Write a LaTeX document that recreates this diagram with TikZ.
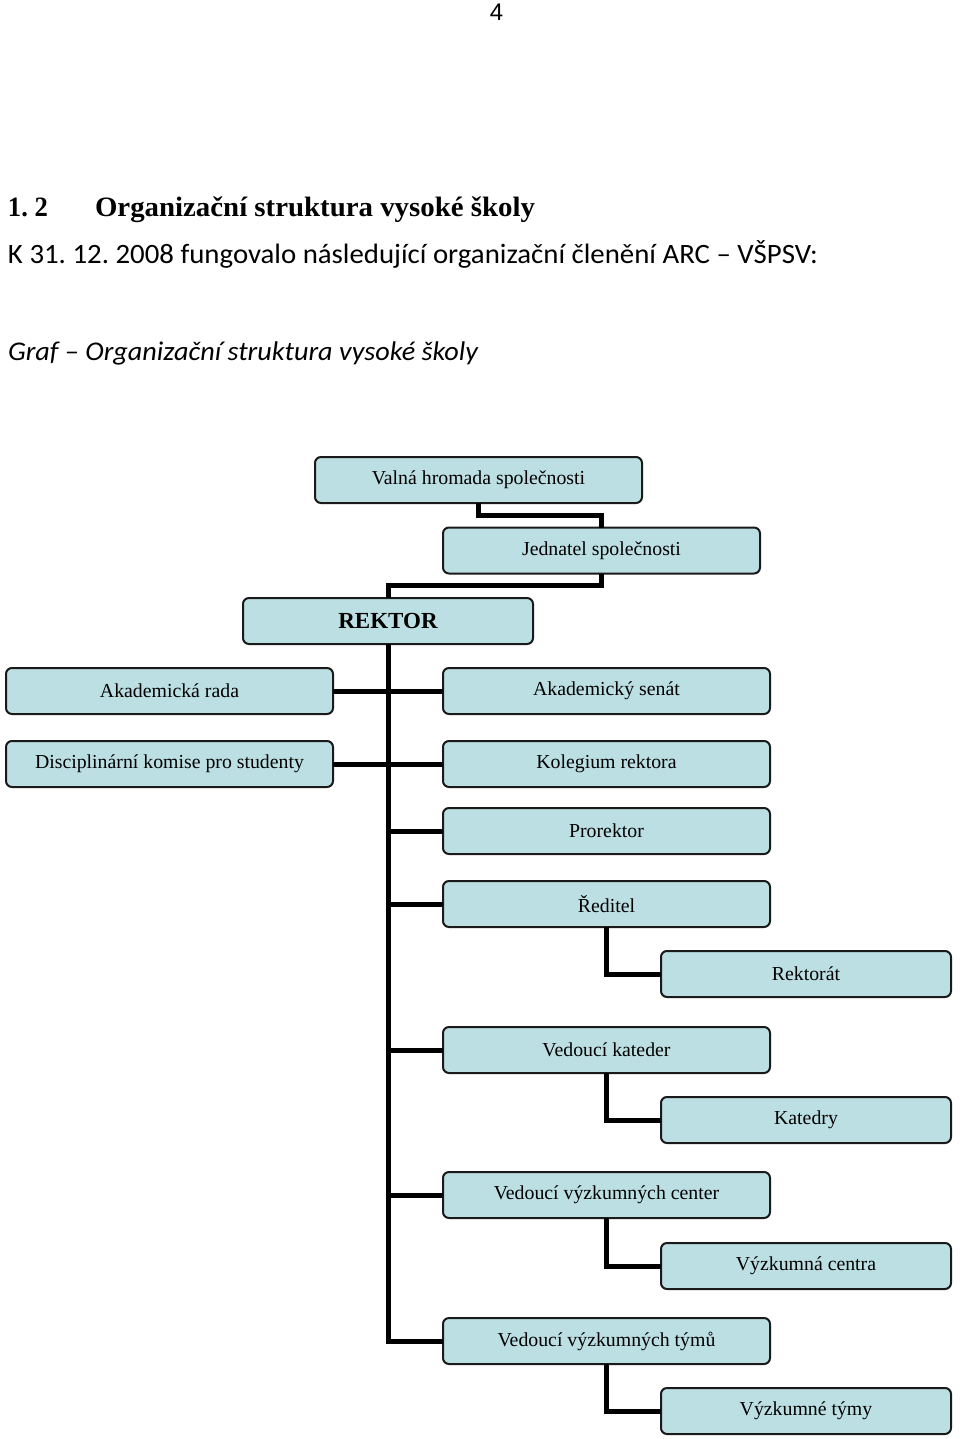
\documentclass[tikz,border=0pt]{standalone}
\usepackage{fontspec}
\usepackage{graphicx}
\setmainfont{Liberation Serif}
\newfontfamily\bodyfont{Carlito}
\newfontfamily\pagefont{Liberation Sans}
\usetikzlibrary{calc}
\frenchspacing
\definecolor{boxfill}{HTML}{BCDFE3}
\definecolor{boxline}{HTML}{1A1A1A}
\tikzset{
  orgbox/.style={draw=boxline, line width=2pt, fill=boxfill, rounded corners=6pt,
    inner sep=0pt, outer sep=0pt, minimum height=46pt, font=\fontsize{19.8}{23}\selectfont},
  wbox/.style={orgbox, minimum width=327pt},
  nbox/.style={orgbox, minimum width=290pt},
  conn/.style={line width=5pt, black, line join=miter},
  hdr/.style={anchor=base west, inner sep=0pt, outer sep=0pt}
}
\begin{document}
\begin{tikzpicture}[x=1pt,y=-1pt]
\useasboundingbox (0,0) rectangle (960,1439);
% header texts
\node[anchor=base, inner sep=0pt] (pg) at (496.5,21) {\pagefont\fontsize{24}{28}\selectfont 4};
\node[hdr] (hnum) at (8,217) {\resizebox{40pt}{\height}{\fontsize{28}{32}\selectfont\bfseries 1. 2}};
\node[hdr] (htitle) at (95,217) {\resizebox{440pt}{\height}{\fontsize{28}{32}\selectfont\bfseries Organizační struktura vysoké školy}};
\node[hdr] (body) at (8,263) {\resizebox{810pt}{\height}{\bodyfont\fontsize{28}{33}\selectfont K 31. 12. 2008 fungovalo následující organizační členění ARC – VŠPSV:}};
\node[hdr] (cap) at (8,360) {\resizebox{470pt}{\height}{\bodyfont\itshape\fontsize{27}{32}\selectfont Graf – Organizační struktura vysoké školy}};

% boxes
\node[orgbox, minimum width=327pt] (val) at (478.5,480) {Valná hromada společnosti};
\node[orgbox, minimum width=317pt] (jed) at (601.5,550.5) {Jednatel společnosti};
\node[nbox, font=\fontsize{23}{27}\selectfont\bfseries] (rek) at (388,621) {REKTOR};
\node[wbox] (ar) at (169.5,691) {Akademická rada};
\node[wbox] (dk) at (169.5,764) {Disciplinární komise pro studenty};
\node[wbox] (as) at (606.5,691) {Akademický senát};
\node[wbox] (kr) at (606.5,764) {Kolegium rektora};
\node[wbox] (pr) at (606.5,831) {Prorektor};
\node[wbox] (rd) at (606.5,904) {Ředitel};
\node[nbox] (rt) at (806,974) {Rektorát};
\node[wbox] (vk) at (606.5,1050) {Vedoucí kateder};
\node[nbox] (kt) at (806,1120) {Katedry};
\node[wbox] (vc) at (606.5,1195) {Vedoucí výzkumných center};
\node[nbox] (vzc) at (806,1266) {Výzkumná centra};
\node[wbox] (vt) at (606.5,1341) {Vedoucí výzkumných týmů};
\node[nbox] (vzt) at (806,1411) {Výzkumné týmy};

% connectors
\draw[conn] (val.south) |- ($(val.south)!0.5!(jed.north)$) -| (jed.north);
\draw[conn] (jed.south) |- ($(jed.south)!0.5!(rek.north)$) -| (rek.north);
\draw[conn] (rek.south) |- (vt.west);
\draw[conn] (ar.east) -- (as.west);
\draw[conn] (dk.east) -- (kr.west);
\draw[conn] (rek.south |- pr.west) -- (pr.west);
\draw[conn] (rek.south |- rd.west) -- (rd.west);
\draw[conn] (rek.south |- vk.west) -- (vk.west);
\draw[conn] (rek.south |- vc.west) -- (vc.west);
\draw[conn] (rd.south) |- (rt.west);
\draw[conn] (vk.south) |- (kt.west);
\draw[conn] (vc.south) |- (vzc.west);
\draw[conn] (vt.south) |- (vzt.west);
\end{tikzpicture}
\end{document}
